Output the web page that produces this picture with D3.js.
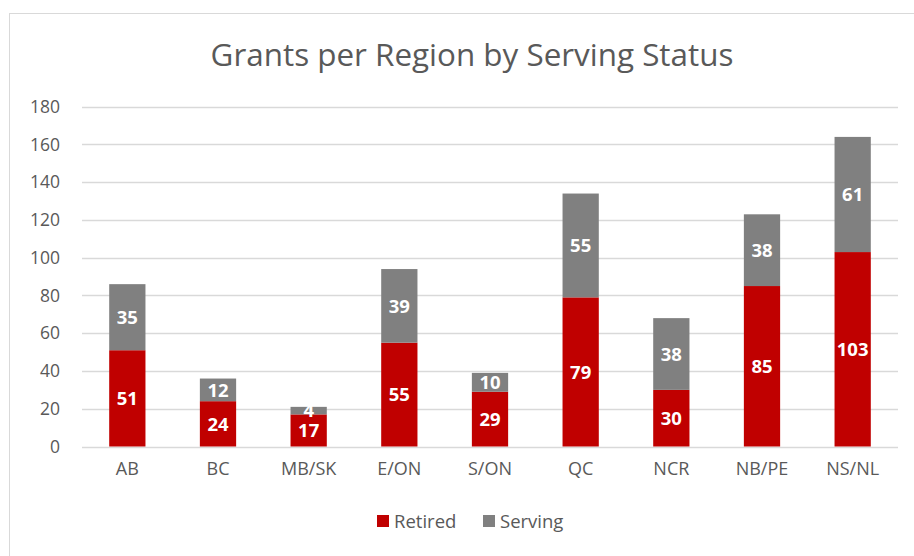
<!DOCTYPE html>
<html><head><meta charset="utf-8">
<script src="https://cdn.jsdelivr.net/npm/d3@7"></script>
<style>body{margin:0;background:#fff;}svg{display:block;font-family:"Open Sans",Lato,sans-serif;}</style>
</head><body>
<svg id="c" width="914" height="556"></svg>
<script>
const regions = ["AB","BC","MB/SK","E/ON","S/ON","QC","NCR","NB/PE","NS/NL"];
const retired = [51,24,17,55,29,79,30,85,103];
const serving = [35,12,4,39,10,55,38,38,61];
const yTicks = [0,20,40,60,80,100,120,140,160,180];
const seriesNames = ["Retired","Serving"];
const colors = ["#C00000","#808080"];

const svg = d3.select("#c");
const M = {left:82, right:898, top:106.7, bottom:446.5};

svg.append("rect").attr("x",9.5).attr("y",13.5).attr("width",920).attr("height",560)
  .attr("fill","#fff").attr("stroke","#d9d9d9");

const x = d3.scaleBand().domain(regions).range([M.left,M.right]).paddingInner(0.6).paddingOuter(0.3);
const y = d3.scaleLinear().domain([0,180]).range([M.bottom,M.top]);

// gridlines
svg.append("g").selectAll("line").data(yTicks).join("line")
  .attr("x1",M.left).attr("x2",M.right)
  .attr("y1",d=>Math.round(y(d))+0.5).attr("y2",d=>Math.round(y(d))+0.5)
  .attr("stroke","#d9d9d9").attr("stroke-width",1.5);

// y axis labels
const yAxis = d3.axisLeft(y).tickValues(yTicks).tickSize(0).tickPadding(0);
const gy = svg.append("g").attr("transform",`translate(60,0)`).call(yAxis);
gy.select(".domain").remove();
gy.selectAll("text").attr("fill","#595959").style("font-size","17.5px").style("font-family","'Open Sans',sans-serif");

// x axis labels
const xAxis = d3.axisBottom(x).tickSize(0).tickPadding(0);
const gx = svg.append("g").attr("transform",`translate(0,462)`).call(xAxis);
gx.select(".domain").remove();
gx.selectAll("text").attr("fill","#595959").style("font-size","18px").style("font-family","'Open Sans',sans-serif");

const stackData = regions.map((r,i)=>({region:r, Retired:retired[i], Serving:serving[i]}));
const stack = d3.stack().keys(seriesNames)(stackData);

const layers = svg.append("g").selectAll("g").data(stack).join("g").attr("fill",(d,i)=>colors[i]);
layers.selectAll("rect").data(d=>d).join("rect")
  .attr("x",d=>x(d.data.region)).attr("width",x.bandwidth())
  .attr("y",d=>y(d[1])).attr("height",d=>y(d[0])-y(d[1]));

// value labels
const lab = svg.append("g");
stack.forEach((layer)=>{
  lab.selectAll(null).data(layer).join("text")
    .attr("x",d=>x(d.data.region)+x.bandwidth()/2)
    .attr("y",d=>(y(d[0])+y(d[1]))/2)
    .attr("dy","0.36em")
    .attr("text-anchor","middle")
    .attr("fill","#fff").style("font-weight","bold").style("font-size","18.5px")
    .text(d=>d[1]-d[0]);
});

// title
const t = svg.append("text").attr("x",472).attr("y",66).attr("text-anchor","middle")
  .attr("fill","#595959").style("font-size","28px").text("Grants per Region by Serving Status");
const tw = t.node().getComputedTextLength();
t.style("font-size",(28*523/tw).toFixed(2)+"px");

// legend
const leg = svg.append("g");
const legX = [377,483];
seriesNames.forEach((n,i)=>{
  leg.append("rect").attr("x",legX[i]).attr("y",515).attr("width",12).attr("height",12).attr("fill",colors[i]);
  leg.append("text").attr("x",legX[i]+17).attr("y",528).attr("fill","#595959").style("font-size","18.5px").text(n);
});
</script>
</body></html>
